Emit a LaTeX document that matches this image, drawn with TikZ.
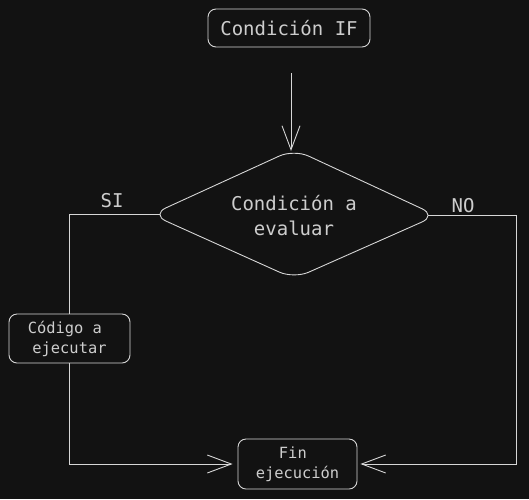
\documentclass[tikz,border=0pt]{standalone}
\usepackage{fontspec}
\setmonofont{DejaVu Sans Mono}
\usetikzlibrary{arrows.meta}
\definecolor{bg}{HTML}{121212}
\definecolor{ln}{HTML}{D6D6D6}
\definecolor{tx}{HTML}{CDCDCD}
\tikzset{
  box/.style={draw=ln, line width=0.9pt, rounded corners=8pt, text=tx, align=center, inner sep=0pt},
  bigfont/.style={font=\ttfamily\fontsize{19}{25}\selectfont},
  smallfont/.style={font=\ttfamily\fontsize{15.4}{20}\selectfont},
  lbl/.style={text=tx, align=center, inner sep=0pt, bigfont},
  conn/.style={draw=ln, line width=0.9pt},
  arr/.style={conn, -{Straight Barb[length=24pt,width=18pt]}},
}
\begin{document}
\begin{tikzpicture}[x=1pt,y=-1pt]
\fill[bg] (0,0) rectangle (529,499);
\useasboundingbox (0,0) rectangle (529,499);

% start box
\node[box, bigfont, minimum width=162pt, minimum height=38pt] (if) at (289,28) {Condición IF};
\coordinate (a0) at (291,73);
\coordinate (dtop) at (291,151);

% decision diamond
\draw[conn, rounded corners=16pt] (294,149.3) -- (436.6,215.5) -- (294,278.7) -- (151.4,214.5) -- cycle;
\coordinate (dl) at (160,214.5);
\coordinate (dr) at (428,215.5);
\node[lbl] (dc) at (294,215.5) {Condición a\\evaluar};

% process and end boxes
\node[box, smallfont, minimum width=121pt, minimum height=49pt] (code) at (69.5,338.5) {Código a\hphantom{a}\\ejecutar};
\node[box, smallfont, minimum width=119pt, minimum height=50pt] (fin) at (297.5,464) {Fin\hphantom{a}\\ejecución};

% labels
\node[lbl] (si) at (112,201) {SI};
\node[lbl] (no) at (463,206) {NO};

% connectors
\draw[arr] (a0) -- (dtop);
\draw[conn] (dl) -| (code.north);
\draw[arr, shorten >=5pt] (code.south) |- (fin.west);
\coordinate (nr) at (516,215.5);
\draw[arr, shorten >=3pt] (dr) -- (nr) |- (fin.east);
\end{tikzpicture}
\end{document}
